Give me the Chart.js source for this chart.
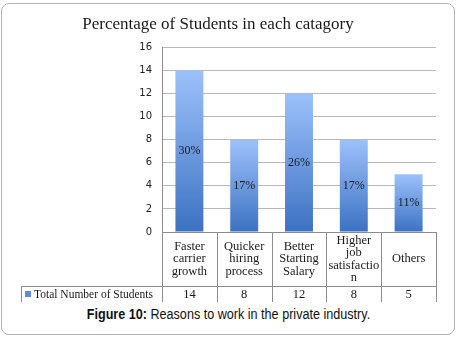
<!DOCTYPE html>
<html>
<head>
<meta charset="utf-8">
<script src="https://cdn.jsdelivr.net/npm/chart.js@4/dist/chart.umd.min.js"></script>
<style>
  html, body { margin: 0; padding: 0; background: #fff; }
  #frame {
    position: absolute; left: 1px; top: 3px; width: 454px; height: 332px;
    box-sizing: border-box; border: 1px solid #b4b4b4; border-radius: 8px;
  }
  #wrap { position: absolute; left: 0; top: 0; width: 457px; height: 305px; }
  #caption {
    position: absolute; left: 0; top: 306px; width: 457px; text-align: center;
    font-family: "Liberation Sans", Arial, sans-serif; font-size: 14px; color: #111;
  }
  #caption span { display: inline-block; transform: scaleX(0.9); transform-origin: center; }
</style>
</head>
<body>
<div id="frame"></div>
<div id="wrap"><canvas id="barchart" width="457" height="305"></canvas></div>
<div id="caption"><span><b>Figure 10:</b> Reasons to work in the private industry.</span></div>
<script>
// chart data
const categories = [
  ['Faster', 'carrier', 'growth'],
  ['Quicker', 'hiring', 'process'],
  ['Better', 'Starting', 'Salary'],
  ['Higher', 'job', 'satisfactio', 'n'],
  ['Others']
];
const studentCounts = [14, 8, 12, 8, 5];
const percentLabels = ['30%', '17%', '26%', '17%', '11%'];
const seriesName = 'Total Number of Students';
const yMin = 0, yMax = 16, yStep = 2;

const serif = '"Liberation Serif", "Times New Roman", serif';

// vertical gradient for each bar, light on top, darker at the base
function barFill(context) {
  const chart = context.chart;
  const yScale = chart.scales.y;
  if (!yScale || !context.parsed) return '#5b8fd8';
  const top = yScale.getPixelForValue(context.parsed.y);
  const base = yScale.getPixelForValue(0);
  if (!isFinite(top) || !isFinite(base) || top === base) return '#5b8fd8';
  const g = chart.ctx.createLinearGradient(0, top, 0, base);
  g.addColorStop(0, '#9cc1fb');
  g.addColorStop(1, '#3c72c2');
  return g;
}

// percentage labels in the middle of each bar
const percentPlugin = {
  id: 'percentPlugin',
  afterDatasetsDraw(chart) {
    const ctx = chart.ctx;
    const meta = chart.getDatasetMeta(0);
    ctx.save();
    ctx.font = '12px ' + serif;
    ctx.fillStyle = '#1a1a1a';
    ctx.textAlign = 'center';
    ctx.textBaseline = 'middle';
    meta.data.forEach((bar, i) => {
      ctx.fillText(percentLabels[i], bar.x, (bar.y + bar.base) / 2);
    });
    ctx.restore();
  }
};

// data table under the plot (category row + values row)
const tablePlugin = {
  id: 'tablePlugin',
  afterDraw(chart) {
    const ctx = chart.ctx;
    const xs = chart.scales.x;
    const area = chart.chartArea;
    const top = area.bottom;
    const mid = top + 54;
    const end = mid + 16;
    const n = categories.length;
    const step = (area.right - area.left) / n;
    const legendLeft = 21;

    ctx.save();
    ctx.strokeStyle = '#8c8c8c';
    ctx.lineWidth = 1;
    ctx.beginPath();
    ctx.moveTo(area.left, top + 0.5); ctx.lineTo(area.right, top + 0.5);
    ctx.moveTo(legendLeft, mid + 0.5); ctx.lineTo(area.right, mid + 0.5);
    for (let i = 0; i <= n; i++) {
      const bx = Math.round(area.left + i * step) + 0.5;
      ctx.moveTo(bx, top); ctx.lineTo(bx, end);
    }
    ctx.moveTo(legendLeft + 0.5, mid); ctx.lineTo(legendLeft + 0.5, end);
    ctx.stroke();

    ctx.font = '12.5px ' + serif;
    ctx.fillStyle = '#1a1a1a';
    ctx.textAlign = 'center';
    ctx.textBaseline = 'middle';
    const lh = 12.5;
    categories.forEach((lines, i) => {
      const cx = xs.getPixelForValue(i);
      const y0 = (top + mid) / 2 - (lines.length - 1) * lh / 2;
      lines.forEach((t, k) => ctx.fillText(t, cx, y0 + k * lh));
      ctx.fillText(String(studentCounts[i]), cx, (mid + end) / 2 + 1);
    });

    // legend key + series name
    ctx.fillStyle = '#5b8fd8';
    ctx.fillRect(legendLeft + 4, mid + 5, 6, 6);
    ctx.fillStyle = '#1a1a1a';
    ctx.textAlign = 'left';
    ctx.font = '11.5px ' + serif;
    ctx.fillText(seriesName, legendLeft + 13, (mid + end) / 2 + 1);
    ctx.restore();
  }
};

const ctx = document.getElementById('barchart').getContext('2d');
const barchart = new Chart(ctx, {
  type: 'bar',
  data: {
    labels: categories,
    datasets: [{
      label: seriesName,
      data: studentCounts,
      backgroundColor: barFill,
      borderWidth: 0,
      categoryPercentage: 1,
      barPercentage: 0.51
    }]
  },
  options: {
    responsive: false,
    animation: false,
    layout: { padding: { left: 0, right: 21, top: 0, bottom: 0 } },
    plugins: {
      legend: { display: false },
      tooltip: { enabled: false },
      title: {
        display: true,
        text: 'Percentage of Students in each catagory',
        color: '#1a1a1a',
        font: { family: serif, size: 17, weight: 'normal' },
        padding: { top: 14, bottom: 13 }
      }
    },
    scales: {
      x: {
        offset: true,
        grid: { display: false },
        border: { display: false },
        ticks: { display: false },
        afterFit(scale) { scale.height = 73; }
      },
      y: {
        min: yMin,
        max: yMax,
        ticks: {
          stepSize: yStep,
          color: '#222',
          padding: 10,
          font: { family: '"DejaVu Sans", Verdana, sans-serif', size: 10 }
        },
        grid: { color: '#b8b8b8', drawTicks: false },
        border: { display: true, color: '#8c8c8c' },
        afterFit(scale) { scale.width = 162; }
      }
    }
  },
  plugins: [percentPlugin, tablePlugin]
});
</script>
</body>
</html>
